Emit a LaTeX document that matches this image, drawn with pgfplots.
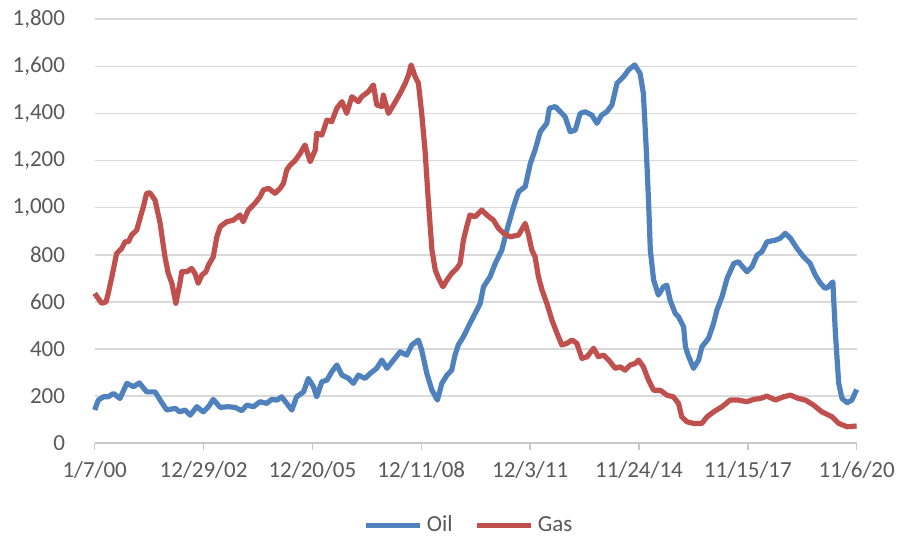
\documentclass[border=0pt]{standalone}
\usepackage{pgfplots}
\usepackage{pgfplotstable}
\pgfplotsset{compat=1.18}
\usepackage{fontspec}
\setmainfont{Carlito}
\definecolor{oilblue}{HTML}{4F81BD}
\definecolor{gasred}{HTML}{C0504D}
\definecolor{gridgray}{HTML}{D9D9D9}
\definecolor{labelgray}{HTML}{595959}
\definecolor{axisgray}{HTML}{C8C8C8}

\pgfplotstableread{
t v
2000.02 141
2000.12 183
2000.26 197
2000.39 197
2000.53 211
2000.71 190
2000.90 254
2001.08 240
2001.24 256
2001.44 218
2001.67 218
2001.81 183
2001.99 141
2002.22 148
2002.35 133
2002.49 141
2002.63 119
2002.81 155
2002.99 133
2003.13 155
2003.26 186
2003.45 152
2003.67 155
2003.86 152
2004.04 138
2004.18 162
2004.36 155
2004.54 176
2004.72 169
2004.86 186
2005.00 183
2005.13 197
2005.27 169
2005.41 141
2005.54 197
2005.73 218
2005.86 275
2006.00 240
2006.09 197
2006.23 261
2006.37 268
2006.50 303
2006.64 332
2006.78 289
2006.96 275
2007.09 254
2007.23 289
2007.41 275
2007.55 296
2007.73 318
2007.87 353
2008.01 318
2008.19 353
2008.37 388
2008.55 374
2008.69 417
2008.87 438
2008.96 395
2009.10 296
2009.24 225
2009.39 183
2009.51 254
2009.65 289
2009.78 310
2009.87 374
2009.96 417
2010.10 452
2010.28 509
2010.42 551
2010.56 594
2010.65 664
2010.83 707
2010.97 763
2011.15 820
2011.29 905
2011.47 1004
2011.61 1068
2011.79 1089
2011.93 1188
2012.06 1245
2012.20 1322
2012.38 1358
2012.45 1422
2012.61 1429
2012.75 1407
2012.88 1386
2013.02 1322
2013.16 1330
2013.29 1400
2013.43 1407
2013.61 1393
2013.75 1358
2013.88 1393
2014.02 1407
2014.16 1436
2014.30 1528
2014.48 1556
2014.61 1584
2014.78 1606
2014.93 1570
2015.02 1485
2015.10 1245
2015.16 1032
2015.21 820
2015.30 693
2015.43 629
2015.57 664
2015.66 671
2015.75 608
2015.89 551
2015.98 537
2016.12 494
2016.17 409
2016.26 367
2016.39 318
2016.53 353
2016.62 409
2016.80 445
2016.94 509
2017.03 565
2017.17 622
2017.31 700
2017.49 763
2017.62 770
2017.85 728
2017.99 749
2018.13 799
2018.26 813
2018.40 855
2018.63 862
2018.76 870
2018.90 891
2019.04 870
2019.22 827
2019.40 791
2019.58 763
2019.72 714
2019.86 679
2019.99 657
2020.08 664
2020.20 685
2020.27 466
2020.36 254
2020.45 190
2020.59 172
2020.72 183
2020.85 228
}\oil

\pgfplotstableread{
t v
2000.02 636
2000.21 594
2000.33 600
2000.39 636
2000.49 707
2000.62 806
2000.76 827
2000.85 855
2000.94 855
2001.03 884
2001.17 905
2001.26 955
2001.35 1004
2001.44 1061
2001.53 1063
2001.67 1032
2001.81 933
2001.94 791
2002.03 721
2002.13 679
2002.24 594
2002.35 679
2002.40 728
2002.54 728
2002.67 742
2002.76 721
2002.85 679
2002.95 714
2003.06 728
2003.13 756
2003.26 791
2003.36 876
2003.45 919
2003.63 940
2003.81 947
2003.99 969
2004.08 940
2004.22 990
2004.40 1018
2004.54 1046
2004.63 1075
2004.77 1082
2004.95 1061
2005.09 1082
2005.18 1103
2005.27 1160
2005.36 1180
2005.50 1200
2005.64 1231
2005.77 1266
2005.91 1195
2006.05 1245
2006.09 1316
2006.23 1308
2006.37 1372
2006.50 1365
2006.64 1422
2006.78 1450
2006.91 1400
2007.05 1471
2007.23 1450
2007.32 1471
2007.50 1492
2007.64 1521
2007.73 1436
2007.87 1429
2007.91 1478
2008.05 1400
2008.19 1436
2008.37 1485
2008.51 1528
2008.60 1563
2008.67 1606
2008.78 1556
2008.87 1528
2008.96 1400
2009.05 1245
2009.14 1032
2009.24 820
2009.33 735
2009.42 700
2009.54 664
2009.65 693
2009.78 721
2009.92 742
2010.01 763
2010.10 862
2010.19 919
2010.28 969
2010.42 961
2010.60 990
2010.74 969
2010.92 947
2011.06 912
2011.20 891
2011.38 876
2011.61 884
2011.79 933
2011.88 885
2011.97 820
2012.06 791
2012.15 707
2012.25 650
2012.38 594
2012.52 523
2012.66 466
2012.79 417
2012.93 424
2013.07 438
2013.20 424
2013.34 360
2013.48 367
2013.66 403
2013.79 367
2013.93 374
2014.07 353
2014.25 318
2014.39 324
2014.52 310
2014.66 332
2014.80 339
2014.89 353
2015.02 324
2015.16 268
2015.30 225
2015.48 225
2015.66 204
2015.84 197
2015.98 169
2016.07 112
2016.21 91
2016.39 84
2016.62 84
2016.76 112
2016.94 133
2017.17 155
2017.39 183
2017.62 183
2017.85 176
2018.03 186
2018.22 190
2018.40 200
2018.63 183
2018.85 197
2019.04 204
2019.26 190
2019.45 183
2019.67 162
2019.90 133
2020.18 112
2020.36 84
2020.59 70
2020.85 73
}\gas

\begin{document}
\begin{tikzpicture}
\path[use as bounding box] (-47.35pt,-45.95pt) rectangle (401.65pt,221.6pt);
\begin{axis}[
  scale only axis,
  width=381pt, height=212pt,
  xmin=2000.02, xmax=2020.852,
  ymin=0, ymax=1800,
  xtick={2000.02,2002.996,2005.972,2008.948,2011.924,2014.9,2017.876,2020.852},
  xticklabels={1/7/00,12/29/02,12/20/05,12/11/08,12/3/11,11/24/14,11/15/17,11/6/20},
  ytick={0,200,...,1800},
  axis x line*=bottom,
  axis y line*=left,
  x axis line style={draw=axisgray, line width=0.75pt, -},
  y axis line style={draw=none, -},
  xtick style={draw=axisgray, line width=0.75pt},
  ytick style={draw=none},
  tick align=outside,
  major tick length=3.3pt,
  ymajorgrids,
  major grid style={draw=gridgray, line width=0.75pt},
  tick label style={font=\fontsize{11.5}{13}\selectfont, text=labelgray},
  yticklabel style={xshift=-8pt},
  xticklabel style={yshift=-2.5pt},
  /pgf/number format/.cd, 1000 sep={,}, assume math mode=true,
  /pgfplots/.cd,
  legend columns=2,
  legend style={at={(0.4925,-0.194)}, anchor=center, draw=none, fill=none,
    font=\fontsize{11.5}{13}\selectfont, text=labelgray,
    /tikz/every even column/.append style={column sep=9pt}},
  legend image code/.code={\path (0pt,0pt) -- (27pt,0pt);\draw[#1, line width=2.4pt, line cap=round] (1pt,0pt) -- (24pt,0pt);},
  clip=false,
]
\addplot[oilblue, line width=2.6pt, line join=round] table[x=t,y=v] {\oil};
\addlegendentry{Oil}
\addplot[gasred, line width=2.6pt, line join=round] table[x=t,y=v] {\gas};
\addlegendentry{Gas}
\end{axis}
\end{tikzpicture}
\end{document}
